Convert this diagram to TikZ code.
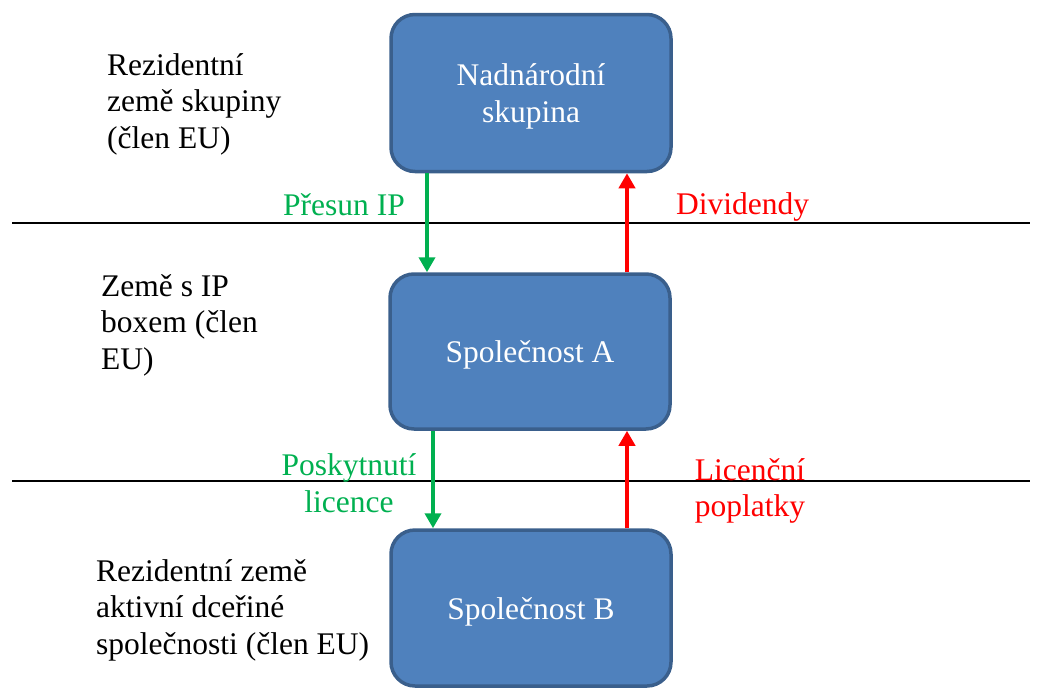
\documentclass[tikz,border=0pt]{standalone}
\usepackage{fontspec}
\setmainfont{Liberation Serif}
\usetikzlibrary{arrows.meta}
\definecolor{boxfill}{HTML}{4F81BD}
\definecolor{boxdraw}{HTML}{3A5F8C}
\definecolor{grn}{HTML}{00B050}
\definecolor{rd}{HTML}{FF0000}
\newcommand{\boxtext}[1]{\raisebox{-4pt}[\height][\depth]{\begin{tabular}{@{}c@{}}#1\end{tabular}}}
\tikzset{
  entity/.style={draw=boxdraw, line width=3.5pt, fill=boxfill, rounded corners=24pt,
    minimum width=280pt, text=white, font=\fontsize{31.5}{37}\selectfont, inner sep=0pt},
  sep/.style={black, line width=1.3pt},
  lbl/.style={font=\fontsize{31.5}{36.5}\selectfont, inner sep=0pt},
  flowg/.style={grn, line width=4pt, -{Triangle[width=16pt,length=15pt]}},
  flowr/.style={rd, line width=4pt, -{Triangle[width=16pt,length=15pt]}},
}
\begin{document}
\begin{tikzpicture}[x=1pt,y=-1pt]
\useasboundingbox (0,0) rectangle (1038,688);
% separators
\coordinate (l1a) at (12,223); \coordinate (l1b) at (1030,223);
\coordinate (l2a) at (12,481); \coordinate (l2b) at (1030,481);
\draw[sep] (l1a) -- (l1b);
\draw[sep] (l2a) -- (l2b);
% boxes
\node[entity, minimum height=157pt] (top) at (531,93) {\boxtext{Nadnárodní\\skupina}};
\node[entity, minimum height=155pt] (mid) at (530,351.5) {\boxtext{Společnost A}};
\node[entity, minimum height=156pt] (bot) at (531,608) {\boxtext{Společnost B}};
% arrows
\draw[flowg] (top.south -| 427,0) -- (mid.north -| 427,0);
\draw[flowr] (mid.north -| 627,0) -- (top.south -| 627,0);
\draw[flowg] (mid.south -| 433,0) -- (bot.north -| 433,0);
\draw[flowr] (bot.north -| 627,0) -- (mid.south -| 627,0);
% arrow labels
\node[lbl, text=grn, anchor=east] (t1) at (405,205) {Přesun IP};
\node[lbl, text=rd, anchor=west] (t2) at (676,207) {Dividendy};
\node[lbl, text=grn, align=center] (t3) at (349,483) {Poskytnutí\\licence};
\node[lbl, text=rd, align=center] (t4) at (750,491) {Licenční\\poplatky};
% side labels
\node[lbl, align=left, anchor=west] (s1) at (107,104) {Rezidentní\\země skupiny\\(člen EU)};
\node[lbl, align=left, anchor=west] (s2) at (101,325) {Země s IP\\boxem (člen\\EU)};
\node[lbl, align=left, anchor=west] (s3) at (96,610) {Rezidentní země\\aktivní dceřiné\\společnosti (člen EU)};
\end{tikzpicture}
\end{document}
